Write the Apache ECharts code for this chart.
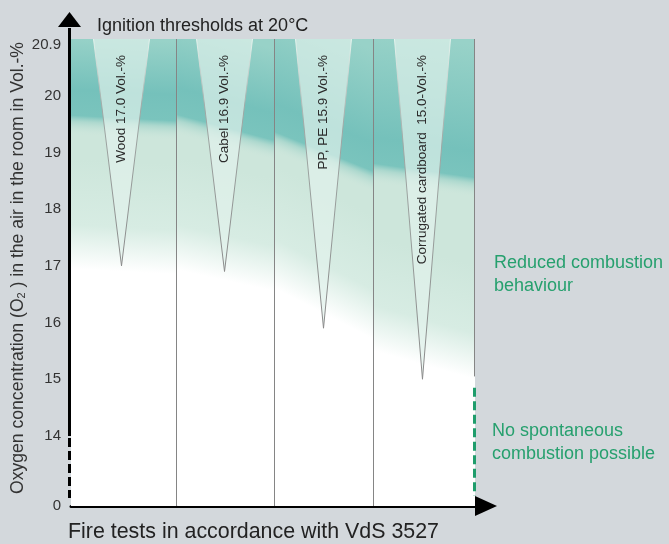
<!DOCTYPE html>
<html><head><meta charset="utf-8">
<script src="https://cdn.jsdelivr.net/npm/echarts@6/dist/echarts.min.js"></script>
<style>html,body{margin:0;padding:0;background:#d3d8dc;}#c{width:669px;height:544px;}</style>
</head><body><div id="c"></div>
<script>
// ---- data ----
const yTickValues = [0, 14, 15, 16, 17, 18, 19, 20, 20.9];
const axisBreak = [0, 14];
const yTop = 21;
const columnEdges = [0, 1.05, 2.02, 3, 4];
const tealEdgeLeft = [19.55, 19.56, 19.25, 18.7];
const tealEdgeRight = [19.45, 19.1, 18.55, 18.45];
const whiteEdgeLeft = [16.95, 16.93, 16.6, 15.5];
const whiteEdgeRight = [16.85, 16.55, 15.7, 15.0];
const materials = ['Wood 17.0 Vol.-%', 'Cabel 16.9 Vol.-%', 'PP, PE 15.9 Vol.-%', 'Corrugated cardboard  15.0-Vol.-%'];
const thresholds = [17.0, 16.9, 15.9, 15.0];
const thresholdX = [0.5, 1.52, 2.5, 3.48];
const dividerX = [1.05, 2.02, 3, 4];
const dividerFrom = [0, 0, 0, 15.05];
const leftDashed = [1.6, 14];
const rightDashed = [2, 14.85];

const FONT = '"Liberation Sans", Arial, sans-serif';
const chart = echarts.init(document.getElementById('c'), null, {renderer: 'canvas'});

const bgData = columnEdges.slice(0, 4).map((x0, i) => [x0, columnEdges[i + 1], tealEdgeLeft[i], tealEdgeRight[i], whiteEdgeLeft[i], whiteEdgeRight[i]]);
const triData = thresholdX.map((x, i) => [x, thresholds[i]]);
const divData = dividerX.map((x, i) => [x, dividerFrom[i]]);

function normalUp(a, b) {
  const dx = b[0] - a[0], dy = b[1] - a[1];
  const len = Math.hypot(dx, dy);
  return [dy / len, -dx / len];
}

function bgItem(params, api) {
  const x0 = api.value(0), x1 = api.value(1);
  const pTL = api.coord([x0, api.value(2)]), pTR = api.coord([x1, api.value(3)]);
  const pWL = api.coord([x0, api.value(4)]), pWR = api.coord([x1, api.value(5)]);
  const bottom = api.coord([x0, 0])[1];
  const top = api.coord([x0, yTop])[1];
  const L = pTL[0], R = pTR[0];
  const nW = normalUp(pWL, pWR);
  const mW = [(pWL[0] + pWR[0]) / 2, (pWL[1] + pWR[1]) / 2];
  const F = 110;
  const lightFill = new echarts.graphic.LinearGradient(mW[0] + nW[0] * F, mW[1] + nW[1] * F, mW[0], mW[1], [
    {offset: 0, color: '#cde6db'}, {offset: 0.6, color: '#d7ece3'}, {offset: 1, color: '#ffffff'}
  ], true);
  const nT = normalUp(pTL, pTR);
  const mT = [(pTL[0] + pTR[0]) / 2, (pTL[1] + pTR[1]) / 2];
  const D = mT[1] - top, E = 14, T = D + E;
  const tealFill = new echarts.graphic.LinearGradient(mT[0] + nT[0] * D, mT[1] + nT[1] * D, mT[0] - nT[0] * E, mT[1] - nT[1] * E, [
    {offset: 0, color: '#98d2c8'},
    {offset: Math.max(0.1, (D - 32) / T), color: '#75c1bb'},
    {offset: (D - 6) / T, color: '#7ac4bd'},
    {offset: D / T, color: 'rgba(165,213,203,0.8)'},
    {offset: 1, color: 'rgba(205,230,220,0)'}
  ], true);
  return {type: 'group', children: [
    {type: 'rect', shape: {x: L, y: top, width: R - L, height: bottom - top}, style: {fill: lightFill}},
    {type: 'polygon', shape: {points: [[L, top], [R, top], [R, pTR[1] + E], [L, pTL[1] + E]]}, style: {fill: tealFill}}
  ]};
}

function triItem(params, api) {
  const apex = api.coord([api.value(0), api.value(1)]);
  const top = api.coord([api.value(0), yTop])[1];
  const h = 28;
  const stroke = new echarts.graphic.LinearGradient(0, top, 0, apex[1], [
    {offset: 0, color: 'rgba(235,246,241,0.9)'}, {offset: 0.3, color: '#a0a8a5'}, {offset: 1, color: '#8a8a8a'}
  ], true);
  return {type: 'group', children: [
    {type: 'polygon', shape: {points: [[apex[0] - h, top], [apex[0] + h, top], apex]}, style: {fill: 'rgba(226,242,236,0.68)'}},
    {type: 'polyline', shape: {points: [[apex[0] - h, top], apex, [apex[0] + h, top]]}, style: {stroke: stroke, lineWidth: 1, fill: null}},
    {type: 'text', x: apex[0], y: top + 16, rotation: Math.PI / 2,
      style: {text: materials[params.dataIndex], align: 'right', verticalAlign: 'middle', fontSize: 13.5, fontFamily: FONT, fill: '#2b2b2b'}}
  ]};
}

function divItem(params, api) {
  const p0 = api.coord([api.value(0), api.value(1)]);
  const p1 = api.coord([api.value(0), yTop]);
  const x = Math.round(p0[0]) - 0.5;
  return {type: 'line', shape: {x1: x, y1: p0[1], x2: x, y2: p1[1]}, style: {stroke: '#858585', lineWidth: 1}};
}

function axisDecoItem(params, api) {
  const pB = api.coord([0, axisBreak[1]]);
  const pTop = api.coord([0, yTop]);
  const pD0 = api.coord([0, leftDashed[0]]);
  const x = pB[0] - 1.5;
  const arrowBase = pTop[1] - 12;
  const rB = api.coord([columnEdges[4], rightDashed[1]]);
  const rD0 = api.coord([columnEdges[4], rightDashed[0]]);
  const rx = rB[0] - 0.5;
  return {type: 'group', children: [
    {type: 'line', shape: {x1: x, y1: pB[1], x2: x, y2: arrowBase + 1}, style: {stroke: '#000', lineWidth: 3}},
    {type: 'polygon', shape: {points: [[x - 11.5, arrowBase], [x + 11.5, arrowBase], [x, arrowBase - 15]]}, style: {fill: '#000'}},
    {type: 'line', shape: {x1: x, y1: pB[1] + 2, x2: x, y2: pD0[1]}, style: {stroke: '#000', lineWidth: 3, lineDash: [9, 4]}},
    {type: 'line', shape: {x1: rx, y1: rB[1], x2: rx, y2: rD0[1]}, style: {stroke: '#1f9d6c', lineWidth: 3, lineDash: [9, 4.5]}}
  ]};
}

const option = {
  animation: false,
  backgroundColor: '#d3d8dc',
  grid: {left: 71, right: 194, top: 39, bottom: 38, show: true, backgroundColor: '#ffffff', borderWidth: 0, outerBoundsMode: 'none', containLabel: false},
  xAxis: {
    type: 'value', min: 0, max: 4,
    axisLine: {show: true, onZero: false, lineStyle: {color: '#000', width: 3}, symbol: ['none', 'triangle'], symbolSize: [20, 22], symbolOffset: [0, 11]},
    axisTick: {show: false}, axisLabel: {show: false}, splitLine: {show: false}
  },
  yAxis: {
    type: 'value', min: 0, max: yTop,
    breaks: [{start: axisBreak[0], end: axisBreak[1], gap: '15%'}],
    breakArea: {show: false, expandOnClick: false},
    axisLine: {show: false}, axisTick: {show: false}, splitLine: {show: false},
    axisLabel: {customValues: yTickValues, margin: 10, fontSize: 15, fontFamily: FONT, color: '#333'}
  },
  graphic: [
    {type: 'text', x: 18, y: 268, rotation: Math.PI / 2,
      style: {text: '{a|Oxygen concentration (O}{s|2}{a| ) in the air in the room in Vol.-%}', align: 'center', verticalAlign: 'middle',
        rich: {a: {fontSize: 17.6, fontFamily: FONT, fill: '#333'}, s: {fontSize: 11, fontFamily: FONT, fill: '#333', verticalAlign: 'bottom', padding: [8, 0, 0, 0]}}}},
    {type: 'text', left: 97, top: 17, style: {text: 'Ignition thresholds at 20°C', fontSize: 18, fontFamily: FONT, fill: '#222'}},
    {type: 'text', left: 68, top: 522, style: {text: 'Fire tests in accordance with VdS 3527', fontSize: 21.4, fontFamily: FONT, fill: '#222'}},
    {type: 'text', left: 494, top: 252, style: {text: 'Reduced combustion\nbehaviour', fontSize: 18, lineHeight: 23, fontFamily: FONT, fill: '#26a06e'}},
    {type: 'text', left: 492, top: 420, style: {text: 'No spontaneous\ncombustion possible', fontSize: 18, lineHeight: 23, fontFamily: FONT, fill: '#26a06e'}}
  ],
  series: [
    {type: 'custom', name: 'zones', z: 1, renderItem: bgItem, data: bgData, silent: true},
    {type: 'custom', name: 'thresholds', z: 2, renderItem: triItem, data: triData, silent: true},
    {type: 'custom', name: 'dividers', z: 3, renderItem: divItem, data: divData, silent: true},
    {type: 'custom', name: 'axisDeco', z: 5, renderItem: axisDecoItem, data: [[0, 0]], silent: true}
  ]
};
chart.setOption(option);
</script></body></html>
